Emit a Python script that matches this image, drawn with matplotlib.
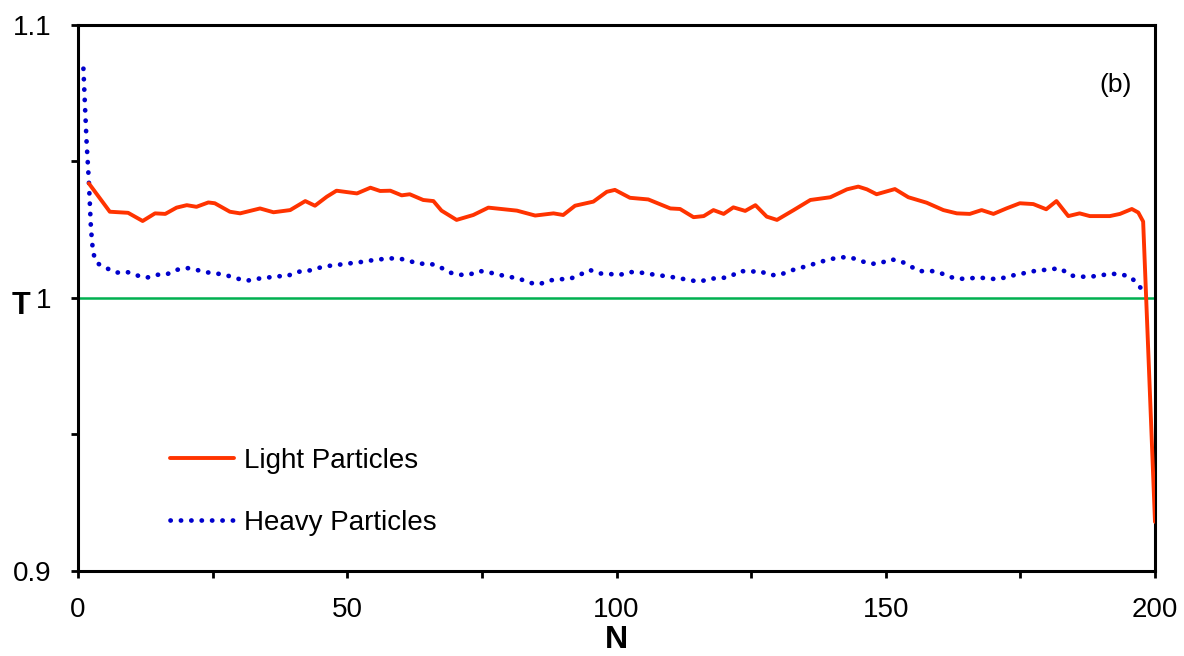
"""
Temperature profile T along the chain index N for light and heavy particles,
with the reference level T = 1 drawn as a flat line. Panel (b).
"""

import matplotlib
matplotlib.use("Agg")
import matplotlib.pyplot as plt
from matplotlib.ticker import MultipleLocator, FuncFormatter

plt.rcParams["font.family"] = ["Liberation Sans", "DejaVu Sans"]

# light particles (solid red)
N_LIGHT = [2.0, 5.9, 9.3, 12.0, 14.3, 16.2, 18.3, 20.2, 22.0, 24.2, 25.4, 28.2, 30.1,
           33.8, 36.3, 39.4, 42.2, 44.0, 46.2, 48.0, 51.8, 54.3, 56.1, 58.0, 60.1,
           61.6, 64.1, 66.0, 67.5, 70.3, 73.4, 76.2, 81.5, 84.9, 88.3, 90.1, 92.3,
           95.7, 98.2, 99.7, 102.5, 105.9, 110.0, 111.8, 114.3, 116.2, 118.0, 119.9,
           121.7, 123.9, 125.8, 127.9, 129.8, 132.9, 136.0, 139.7, 142.8, 144.9,
           146.5, 148.3, 151.7, 154.2, 157.6, 160.7, 163.2, 165.6, 167.8, 170.0,
           172.4, 174.9, 177.4, 179.8, 181.7, 183.9, 186.0, 187.9, 191.6, 193.5,
           195.7, 196.9, 197.8, 200.0]
T_LIGHT = [1.0420, 1.0316, 1.0312, 1.0282, 1.0310, 1.0308, 1.0331, 1.0340, 1.0334,
           1.0350, 1.0347, 1.0316, 1.0310, 1.0328, 1.0314, 1.0322, 1.0355, 1.0338,
           1.0371, 1.0393, 1.0383, 1.0404, 1.0392, 1.0393, 1.0376, 1.0380, 1.0359,
           1.0355, 1.0320, 1.0286, 1.0304, 1.0331, 1.0320, 1.0302, 1.0310, 1.0304,
           1.0338, 1.0353, 1.0389, 1.0396, 1.0367, 1.0361, 1.0328, 1.0326, 1.0296,
           1.0300, 1.0322, 1.0308, 1.0332, 1.0319, 1.0340, 1.0298, 1.0286, 1.0322,
           1.0359, 1.0369, 1.0398, 1.0408, 1.0398, 1.0380, 1.0399, 1.0369, 1.0349,
           1.0322, 1.0310, 1.0308, 1.0322, 1.0308, 1.0328, 1.0347, 1.0344, 1.0325,
           1.0355, 1.0300, 1.0310, 1.0300, 1.0300, 1.0308, 1.0326, 1.0313, 1.0280,
           0.9180]

# heavy particles (dotted blue)
N_HEAVY = [1.0, 1.3, 1.6, 2.0, 2.4, 2.8, 3.6, 5.3, 7.2, 9.0, 10.9, 12.7, 14.6, 16.4,
           18.3, 20.2, 22.0, 23.9, 25.7, 27.6, 29.4, 31.3, 33.1, 35.0, 36.9, 38.7,
           40.7, 42.5, 44.4, 46.3, 48.1, 50.0, 52.0, 53.8, 55.8, 57.8, 59.6, 61.5,
           63.3, 65.2, 67.1, 68.9, 70.7, 72.6, 74.5, 76.3, 78.2, 80.0, 81.9, 83.8,
           85.6, 87.5, 89.4, 91.2, 93.1, 95.0, 96.8, 98.7, 100.5, 102.4, 104.2,
           106.1, 108.0, 109.9, 111.8, 113.6, 115.5, 117.4, 119.3, 121.1, 122.9,
           124.7, 126.6, 128.4, 130.3, 132.1, 134.1, 135.9, 137.8, 139.7, 141.5,
           143.4, 145.2, 147.1, 149.0, 150.8, 152.7, 154.5, 156.3, 158.2, 160.0,
           161.9, 163.7, 165.6, 167.4, 169.4, 171.2, 173.1, 174.9, 176.9, 178.8,
           180.6, 182.5, 184.2, 186.0, 187.9, 189.8, 191.6, 193.6, 195.4, 196.9,
           198.1]
T_HEAVY = [1.0840, 1.0700, 1.0567, 1.0432, 1.0255, 1.0164, 1.0127, 1.0109, 1.0093,
           1.0096, 1.0083, 1.0074, 1.0085, 1.0086, 1.0103, 1.0110, 1.0103, 1.0094,
           1.0090, 1.0083, 1.0072, 1.0063, 1.0070, 1.0074, 1.0080, 1.0079, 1.0096,
           1.0098, 1.0109, 1.0117, 1.0121, 1.0126, 1.0130, 1.0136, 1.0141, 1.0145,
           1.0145, 1.0136, 1.0125, 1.0127, 1.0115, 1.0094, 1.0085, 1.0085, 1.0099,
           1.0094, 1.0085, 1.0078, 1.0071, 1.0056, 1.0050, 1.0064, 1.0069, 1.0069,
           1.0084, 1.0103, 1.0090, 1.0088, 1.0084, 1.0095, 1.0094, 1.0088, 1.0083,
           1.0078, 1.0072, 1.0065, 1.0060, 1.0071, 1.0072, 1.0078, 1.0099, 1.0096,
           1.0099, 1.0084, 1.0084, 1.0099, 1.0110, 1.0120, 1.0132, 1.0142, 1.0149,
           1.0149, 1.0137, 1.0125, 1.0127, 1.0142, 1.0136, 1.0117, 1.0098, 1.0100,
           1.0093, 1.0077, 1.0070, 1.0072, 1.0075, 1.0070, 1.0070, 1.0081, 1.0087,
           1.0097, 1.0101, 1.0106, 1.0108, 1.0083, 1.0078, 1.0078, 1.0082, 1.0089,
           1.0087, 1.0078, 1.0049, 1.0015]

T_REF = 1.0
Y_LABELS = {0.9: "0.9", 1.0: "1", 1.1: "1.1"}

FS = 20

fig = plt.figure(figsize=(11.84, 6.56), dpi=100)
ax = fig.add_axes([0.0659, 0.1296, 0.9096, 0.8323])

ax.axhline(T_REF, color="#00b050", linewidth=1.8, zorder=1)
ax.plot(N_LIGHT, T_LIGHT, color="#ff3300", linewidth=2.8, solid_joinstyle="round",
        solid_capstyle="round", label="Light Particles", zorder=3)
ax.plot(N_HEAVY, T_HEAVY, color="#0000cc", linewidth=3.4,
        linestyle=(0, (0.05, 2.15)), dash_capstyle="round",
        label="Heavy Particles", zorder=2)

ax.set_xlim(0, 200)
ax.set_ylim(0.9, 1.1)
ax.xaxis.set_major_locator(MultipleLocator(50))
ax.xaxis.set_minor_locator(MultipleLocator(25))
ax.yaxis.set_major_locator(MultipleLocator(0.1))
ax.yaxis.set_minor_locator(MultipleLocator(0.05))
ax.xaxis.set_major_formatter(FuncFormatter(lambda v, _: f"{v:g}"))
ax.yaxis.set_major_formatter(
    FuncFormatter(lambda v, _: Y_LABELS.get(round(v, 2), "")))

for s in ax.spines.values():
    s.set_linewidth(2.2)
    s.set_color("black")
ax.tick_params(which="both", direction="out", length=5, width=2, color="black")
ax.tick_params(axis="x", which="major", labelsize=FS, pad=14)
ax.tick_params(axis="y", which="major", labelsize=FS, pad=14)

ax.set_xlabel("N", fontsize=23, fontweight="bold", labelpad=1)
ax.set_ylabel("T", fontsize=22, fontweight="bold", rotation=0,
              ha="center", va="center")
ax.yaxis.set_label_coords(-0.053, 0.485)

ax.text(0.963, 0.89, "(b)", transform=ax.transAxes, fontsize=19,
        ha="center", va="center")

ax.legend(loc="center left", bbox_to_anchor=(0.0854, 0.145), frameon=False,
          fontsize=FS, handlelength=2.3, handletextpad=0.35, labelspacing=1.3,
          borderpad=0, borderaxespad=0)

fig.savefig("out.png", dpi=100, facecolor="white")
